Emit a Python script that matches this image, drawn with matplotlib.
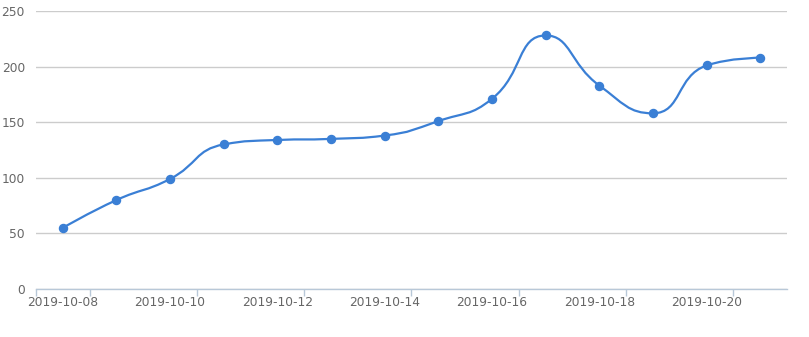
import numpy as np
import matplotlib
matplotlib.use("Agg")
import matplotlib.pyplot as plt
from matplotlib.path import Path
from matplotlib.patches import PathPatch

dates = ["2019-10-08", "2019-10-09", "2019-10-10", "2019-10-11", "2019-10-12",
         "2019-10-13", "2019-10-14", "2019-10-15", "2019-10-16", "2019-10-17",
         "2019-10-18", "2019-10-19", "2019-10-20", "2019-10-21"]
values = [55, 80, 99, 130, 134, 135, 138, 151, 171, 228, 183, 158, 201, 208]
y_ticks = [0, 50, 100, 150, 200, 250]

line_color = "#3a7fd5"
text_color = "#666666"

fig = plt.figure(figsize=(8.09, 3.37), dpi=100)
ax = fig.add_axes([36 / 809, 1 - 289 / 337, 751 / 809, 278 / 337])

x = np.arange(len(dates))
ax.set_xlim(-0.5, len(dates) - 0.5)
ax.set_ylim(0, 250)


def smooth_path(xs, ys, smooth=0.5):
    # bezier smoothing with control points kept inside each segment's box
    pts = ax.transData.transform(np.column_stack([xs, ys]))
    n = len(pts)
    verts = [pts[0]]
    codes = [Path.MOVETO]
    cp0 = pts[0].copy()
    for k in range(1, n):
        p = pts[k]
        prev = pts[k - 1]
        if k + 1 >= n:
            cp1 = p.copy()
            nxt_cp0 = p.copy()
        else:
            nxt = pts[k + 1]
            v = nxt - prev
            len_prev = np.hypot(*(p - prev))
            len_next = np.hypot(*(nxt - p))
            r = len_next / (len_next + len_prev)
            nxt_cp0 = p + v * smooth * r
            nxt_cp0 = np.clip(nxt_cp0, np.minimum(nxt, p), np.maximum(nxt, p))
            v = nxt_cp0 - p
            cp1 = p - v * len_prev / len_next
            cp1 = np.clip(cp1, np.minimum(prev, p), np.maximum(prev, p))
            v = p - cp1
            nxt_cp0 = p + v * len_next / len_prev
        verts += [cp0, cp1, p]
        codes += [Path.CURVE4] * 3
        cp0 = nxt_cp0
    inv = ax.transData.inverted()
    return Path(inv.transform(np.array(verts)), codes)


ax.add_patch(PathPatch(smooth_path(x, values), fill=False, edgecolor=line_color,
                       linewidth=1.6, zorder=3, capstyle="round", joinstyle="round"))
ax.plot(x, values, linestyle="none", marker="o", markersize=5.8,
        color=line_color, zorder=4)

# grid
ax.set_yticks(y_ticks)
ax.yaxis.grid(True, color="#cccccc", linewidth=1)
ax.set_axisbelow(True)
for s in ["top", "right", "left"]:
    ax.spines[s].set_visible(False)
ax.spines["bottom"].set_color("#b8c8d8")
ax.spines["bottom"].set_linewidth(1)
ax.tick_params(axis="y", length=0, pad=8, labelsize=8.8, labelcolor=text_color)

# x labels at every other category, ticks on band boundaries
ax.set_xticks(x[::2])
ax.set_xticklabels(dates[::2])
ax.tick_params(axis="x", length=0, pad=5, labelsize=8.8, labelcolor=text_color)
tick_pos = [-0.5] + list(np.arange(0.5, len(dates) - 1, 2))
ax.set_xticks(tick_pos, minor=True)
ax.tick_params(axis="x", which="minor", length=5, width=1, color="#b8c8d8")

fig.savefig("out.png", dpi=100)
